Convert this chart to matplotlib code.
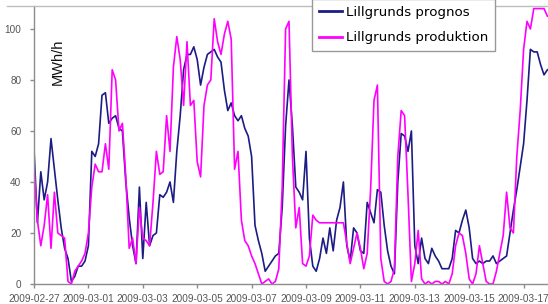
import numpy as np
import pandas as pd
import matplotlib
matplotlib.use("Agg")
import matplotlib.pyplot as plt
from matplotlib.lines import Line2D

# 3-hourly values, starting 2009-02-27 00:00
start = "2009-02-27"
step = "3h"

prognos = [
    53, 24, 44, 33, 40, 57, 45, 33, 22, 14, 10, 1, 3, 7, 7, 9,
    15, 52, 50, 55, 74, 75, 63, 65, 66, 61, 60, 40, 26, 15, 8, 38,
    10, 32, 15, 19, 20, 35, 34, 36, 40, 32, 52, 66, 84, 90, 90, 93,
    88, 78, 85, 90, 91, 92, 89, 87, 76, 68, 71, 66, 64, 66, 61, 58,
    50, 23, 17, 12, 5, 7, 9, 11, 12, 30, 62, 80, 62, 38, 36, 33,
    52, 18, 7, 5, 10, 18, 12, 22, 13, 25, 30, 40, 15, 9, 22, 20,
    13, 12, 32, 28, 24, 37, 36, 23, 13, 7, 4, 40, 59, 58, 52, 60,
    15, 8, 18, 10, 8, 14, 11, 9, 6, 6, 6, 10, 21, 20, 25, 29,
    22, 10, 8, 9, 8, 9, 9, 11, 8, 9, 10, 11, 20, 29, 37, 46,
    55, 72, 92, 91, 91, 86, 82, 84,
]

produktion = [
    47, 25, 15, 23, 35, 14, 36, 20, 19, 18, 1, 0, 5, 7, 9, 12,
    20, 38, 47, 44, 44, 55, 45, 84, 80, 60, 63, 42, 14, 18, 8, 30,
    18, 17, 15, 32, 52, 43, 44, 66, 52, 85, 97, 88, 70, 95, 70, 72,
    48, 42, 70, 78, 80, 104, 95, 90, 98, 103, 96, 45, 52, 25, 17, 15,
    11, 8, 4, 0, 1, 2, 0, 1, 6, 38, 100, 103, 50, 22, 30, 8,
    7, 11, 27, 25, 24, 24, 24, 24, 24, 24, 24, 24, 16, 8, 14, 20,
    14, 6, 12, 37, 72, 78, 10, 1, 0, 1, 6, 50, 68, 66, 35, 1,
    8, 21, 2, 0, 1, 0, 1, 1, 0, 1, 0, 4, 15, 20, 19, 12,
    2, 0, 4, 15, 8, 1, 0, 0, 5, 12, 19, 36, 22, 20, 50, 68,
    92, 103, 100, 108, 108, 108, 108, 105,
]

labels = ["Lillgrunds prognos", "Lillgrunds produktion"]
yticks = [0, 20, 40, 60, 80, 100]
xticks = pd.date_range(start, periods=10, freq="2D")

t = pd.date_range(start, periods=len(prognos), freq=step)

W, H = 548, 304
fig = plt.figure(figsize=(W / 100, H / 100), dpi=100)
ax = fig.add_axes([34 / W, 1 - 284 / H, 1 - 34 / W, (284 - 6) / H])

ax.plot(t, prognos, color="#1c1c85", lw=1.2, label=labels[0])
ax.plot(t, produktion, color="#ff00ff", lw=1.2, label=labels[1])

ax.set_ylim(0, 109)
ax.set_xlim(pd.Timestamp(start), pd.Timestamp(start) + pd.Timedelta(days=(W - 34) / 27.2))
ax.set_yticks(yticks)
ax.set_xticks(xticks)
ax.set_xticklabels([d.strftime("%Y-%m-%d") for d in xticks])

for s in ["top", "right"]:
    ax.spines[s].set_visible(False)
for s in ["left", "bottom"]:
    ax.spines[s].set_color("#8c8c8c")
    ax.spines[s].set_linewidth(1)

ax.tick_params(axis="both", colors="#8c8c8c", labelcolor="#555555",
               labelsize=7.2, length=3, width=1)
ax.tick_params(axis="y", pad=6)
ax.tick_params(axis="x", pad=4.5)
for lb in ax.get_xticklabels() + ax.get_yticklabels():
    lb.set_family("Liberation Sans")

# chart area top border
fig.add_artist(Line2D([7 / W, 1], [1 - 6 / H, 1 - 6 / H], color="#bdbdbd", lw=1))

fig.text(58 / W, 1 - 62 / H, "MWh/h", rotation=90, ha="center", va="center",
         fontsize=10.5, family="Liberation Sans", color="#111111")

leg = fig.legend(loc="upper left", bbox_to_anchor=(312 / W, 1 + 1 / H),
                 borderaxespad=0, fontsize=9.6, handlelength=1.75,
                 handletextpad=0.3, labelspacing=0.95, borderpad=0.5,
                 fancybox=False, framealpha=1)
leg.get_frame().set_edgecolor("#999999")
leg.get_frame().set_linewidth(1)
for ln in leg.get_lines():
    ln.set_linewidth(2)

fig.savefig("out.png", dpi=100)
